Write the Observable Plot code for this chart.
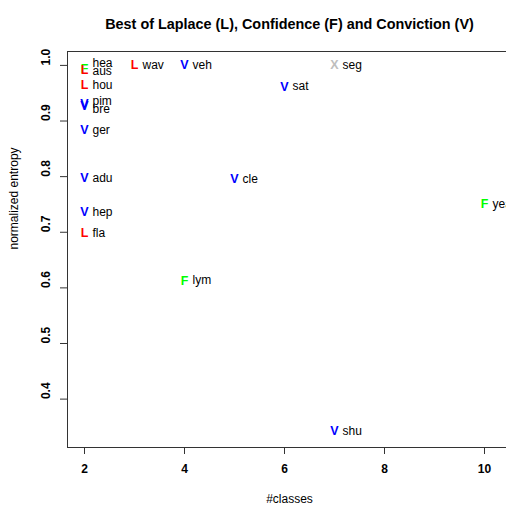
<!DOCTYPE html>
<html>
<head>
<meta charset="utf-8">
<script src="https://cdn.jsdelivr.net/npm/d3@7"></script>
<script src="https://cdn.jsdelivr.net/npm/@observablehq/plot@0.6"></script>
<style>
html, body { margin: 0; padding: 0; overflow: hidden; background: #fff; width: 506px; height: 505px; }
#chart { width: 520px; height: 505px; }
#chart svg { max-width: none !important; width: 520px !important; height: 505px !important; display: block; }
</style>
</head>
<body>
<div id="chart"></div>
<script>
// ---- data ----
const names = ["hea","aus","wav","veh","seg","hou","sat","pim","bre","ger","adu","cle","yea","hep","fla","lym","shu"];
const classes = [2,2,3,4,7,2,6,2,2,2,2,5,10,2,2,4,7];
const entropy = [0.993,0.991,1.0,1.0,1.0,0.964,0.962,0.931,0.927,0.883,0.797,0.795,0.750,0.736,0.698,0.613,0.342];
const labelEntropy = [1.004,0.990,1.0,1.0,1.0,0.964,0.962,0.935,0.922,0.883,0.797,0.795,0.750,0.736,0.698,0.613,0.342];
const measure = ["F","L","L","V","X","L","V","V","V","V","V","V","F","V","L","F","V"];
const measureKeys = ["L","F","V","X"];
const measureColors = ["#ff0000","#00ff00","#0000ff","#bebebe"];
const xTicks = [2,4,6,8,10];
const yTicks = [0.4,0.5,0.6,0.7,0.8,0.9,1.0];
const title = "Best of Laplace (L), Confidence (F) and Conviction (V)";
const xLabel = "#classes";
const yLabel = "normalized entropy";

const rows = names.map((n, i) => ({name: n, x: classes[i], y: entropy[i], ly: labelEntropy[i], m: measure[i]}));
const fmt = d3.format(".1f");

const chart = Plot.plot({
  width: 520,
  height: 505,
  marginLeft: 67,
  marginRight: 9,
  marginTop: 51,
  marginBottom: 58,
  style: {fontFamily: "'Liberation Sans', Arial, Helvetica, sans-serif", fontSize: "12px", background: "#fff", overflow: "visible"},
  x: {domain: [1.66, 10.54], axis: null},
  y: {domain: [0.313, 1.025], axis: null},
  color: {domain: measureKeys, range: measureColors},
  marks: [
    Plot.frame({stroke: "#333", strokeWidth: 1}),
    Plot.axisX(xTicks, {tickSize: 7, fill: "none", stroke: "#333"}),
    Plot.axisY(yTicks, {tickSize: 7, fill: "none", stroke: "#333"}),
    Plot.text(xTicks, {x: d => d, frameAnchor: "bottom", dy: 25, text: d => String(d), fontWeight: "bold", fontSize: 12, fill: "#000"}),
    Plot.text(yTicks, {y: d => d, frameAnchor: "left", dx: -21, rotate: -90, text: d => fmt(d), fontWeight: "bold", fontSize: 12, fill: "#000"}),
    Plot.text([xLabel], {frameAnchor: "bottom", dy: 55, text: d => d, fontSize: 12, fill: "#000"}),
    Plot.text([yLabel], {frameAnchor: "left", dx: -53, rotate: -90, text: d => d, fontSize: 12, fill: "#000"}),
    Plot.text([title], {frameAnchor: "top", dy: -33, text: d => d, fontWeight: "bold", fontSize: 14.4, fill: "#000"}),
    Plot.text(rows, {x: "x", y: "ly", text: "name", textAnchor: "start", dx: 8, fontSize: 12, fill: "#000"}),
    Plot.text(rows, {x: "x", y: "y", text: "m", fill: "m", fontWeight: "bold", fontSize: 12.5})
  ]
});
document.getElementById("chart").appendChild(chart);
</script>
</body>
</html>
